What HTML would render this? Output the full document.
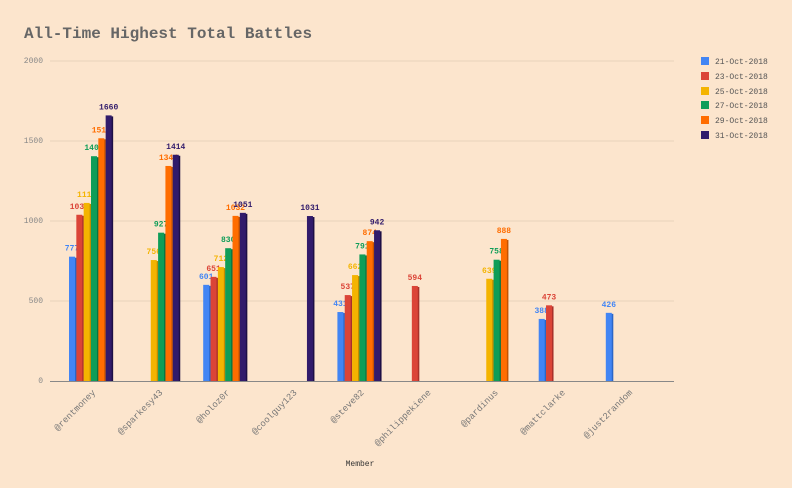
<!DOCTYPE html>
<html><head><meta charset="utf-8"><style>
html,body{margin:0;padding:0;background:#fce5cd;}
svg{display:block;font-family:"Liberation Mono",monospace;}
</style></head><body>
<svg id="s" width="792" height="488" xmlns="http://www.w3.org/2000/svg">
<rect width="792" height="488" fill="#fce5cd"/>
<text x="24" y="38" font-size="16" font-weight="bold" fill="#666">All-Time Highest Total Battles</text>
<g stroke="#e8d3bb" stroke-width="1">
<line x1="50" y1="61" x2="674" y2="61"/><line x1="50" y1="141" x2="674" y2="141"/>
<line x1="50" y1="221" x2="674" y2="221"/><line x1="50" y1="301" x2="674" y2="301"/>
</g>
<g font-size="8" fill="#888" text-anchor="end">
<text x="43" y="63">2000</text><text x="43" y="143">1500</text><text x="43" y="223">1000</text><text x="43" y="303">500</text><text x="43" y="383">0</text>
</g>
<g id="bars"></g>
<rect x="50" y="381" width="624" height="1" fill="#888"/>
<g font-size="8" fill="#555">
<rect x="701" y="57" width="8" height="8" fill="#4285f4"/><text x="715" y="64">21-Oct-2018</text>
<rect x="701" y="72" width="8" height="8" fill="#db4437"/><text x="715" y="79">23-Oct-2018</text>
<rect x="701" y="87" width="8" height="8" fill="#f4b400"/><text x="715" y="94">25-Oct-2018</text>
<rect x="701" y="101" width="8" height="8" fill="#0f9d58"/><text x="715" y="108">27-Oct-2018</text>
<rect x="701" y="116" width="8" height="8" fill="#ff6d00"/><text x="715" y="123">29-Oct-2018</text>
<rect x="701" y="131" width="8" height="8" fill="#311b6b"/><text x="715" y="138">31-Oct-2018</text>
</g>
<text x="360" y="466" font-size="8" fill="#333" text-anchor="middle">Member</text>
<g id="xl" font-size="9" fill="#777" text-anchor="end"></g>
</svg>
<script>
var cols=["#4285f4","#db4437","#f4b400","#0f9d58","#ff6d00","#311b6b"];
var dark=["#2a66c8","#a8302a","#c08c00","#0a7342","#c45200","#1d0f45"];
var names=["@rentmoney","@sparkesy43","@holoz0r","@coolguy123","@steve82","@philippekiene","@pardinus","@mattclarke","@just2random"];
var data=[[777,1039,1113,1405,1517,1660],[0,0,756,927,1344,1414],[601,651,712,830,1032,1051],[0,0,0,0,0,1031],[431,537,662,791,874,942],[0,594,0,0,0,0],[0,0,639,758,888,0],[388,473,0,0,0,0],[426,0,0,0,0,0]];
var b="",l="";
for(var i=0;i<9;i++){var c=91+67.1*i;
 for(var j=0;j<6;j++){var v=data[i][j];if(!v)continue;
  var x=c-22+j*7.33,h=v*0.16,y=381-h;
  b+='<rect x="'+(x+5.5)+'" y="'+(y+1)+'" width="2" height="'+(h-1)+'" fill="'+dark[j]+'"/>';
  b+='<rect x="'+x+'" y="'+y+'" width="6" height="'+h+'" fill="'+cols[j]+'"/>';
  b+='<text x="'+(x+3)+'" y="'+(y-6)+'" font-size="8" font-weight="bold" fill="'+cols[j]+'" text-anchor="middle">'+v+'</text>';
 }
 l+='<text transform="translate('+(c+5)+',393) rotate(-45)">'+names[i]+'</text>';
}
document.getElementById("bars").innerHTML=b;
document.getElementById("xl").innerHTML=l;
</script>
</body></html>
